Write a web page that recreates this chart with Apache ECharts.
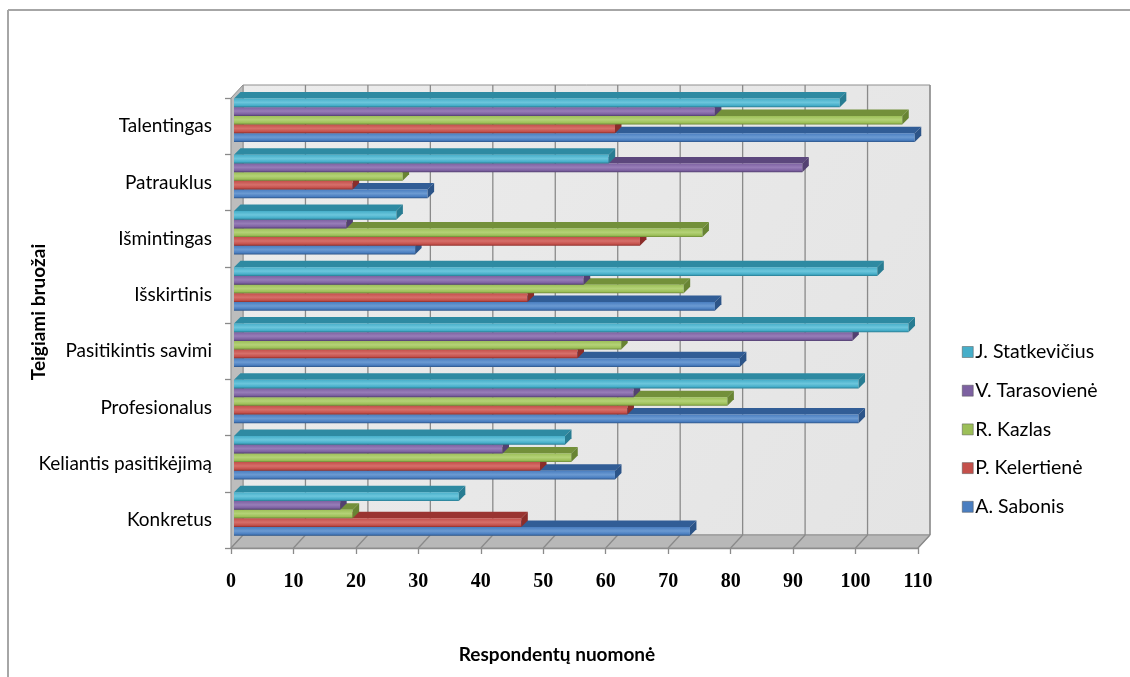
<!DOCTYPE html>
<html>
<head>
<meta charset="utf-8">
<script src="https://cdn.jsdelivr.net/npm/echarts@6/dist/echarts.min.js"></script>
<style>
  html, body { margin: 0; padding: 0; background: #ffffff; }
  #chart { width: 1130px; height: 677px; }
</style>
</head>
<body>
<div id="chart"></div>
<script>
// Categories, bottom to top
const categories = ['Konkretus', 'Keliantis pasitikėjimą', 'Profesionalus', 'Pasitikintis savimi',
  'Išskirtinis', 'Išmintingas', 'Patrauklus', 'Talentingas'];

// Respondent counts per candidate, same order as categories
const sabonis      = [73, 61, 100, 81, 77, 29, 31, 109];
const kelertiene   = [46, 49, 63, 55, 47, 65, 19, 61];
const kazlas       = [19, 54, 79, 62, 72, 75, 27, 107];
const tarasoviene  = [17, 43, 64, 99, 56, 18, 91, 77];
const statkevicius = [36, 53, 100, 108, 103, 26, 60, 97];

const seriesNames = ['J. Statkevičius', 'V. Tarasovienė', 'R. Kazlas', 'P. Kelertienė', 'A. Sabonis'];
const xTicks = [0, 10, 20, 30, 40, 50, 60, 70, 80, 90, 100, 110];

// 3D look: depth offset of the walls and of each bar's top face
const DX = 12, DY = -13;
const BDX = 6.5, BDY = -6.5;
const BAR_H = 8.7, BAR_OFFSET = 0.5;

const palette = {
  'J. Statkevičius': { front: '#46aec9', light: '#6cc6dc', top: '#2e8aa2', side: '#287c92' },
  'V. Tarasovienė':  { front: '#7d61a1', light: '#977db8', top: '#5c477d', side: '#534071' },
  'R. Kazlas':       { front: '#9cbf58', light: '#b4d277', top: '#73903a', side: '#688433' },
  'P. Kelertienė':   { front: '#c4504b', light: '#d66f6a', top: '#9a3431', side: '#8b2d2a' },
  'A. Sabonis':      { front: '#4a7ec0', light: '#6b9ad2', top: '#315d96', side: '#2c5488' }
};

function frameRenderer(params, api) {
  const band = api.size([0, 1])[1];
  const first = api.coord([0, 0]);
  const xL = first[0];
  const yBottom = first[1] + band / 2;
  const yTop = api.coord([0, categories.length - 1])[1] - band / 2;
  const xR = api.coord([xTicks[xTicks.length - 1], 0])[0];
  const children = [];
  // back wall
  children.push({
    type: 'polygon',
    shape: { points: [[xL + DX, yTop + DY], [xR + DX, yTop + DY], [xR + DX, yBottom + DY], [xL + DX, yBottom + DY]] },
    style: {
      fill: { type: 'linear', x: 0, y: 0, x2: 1, y2: 1, colorStops: [
        { offset: 0, color: '#ececec' }, { offset: 1, color: '#e4e4e4' }] },
      stroke: '#8f8f8f', lineWidth: 1
    }
  });
  // left wall
  children.push({
    type: 'polygon',
    shape: { points: [[xL, yTop], [xL + DX, yTop + DY], [xL + DX, yBottom + DY], [xL, yBottom]] },
    style: { fill: '#bdbdbd', stroke: '#8f8f8f', lineWidth: 1 }
  });
  // floor
  children.push({
    type: 'polygon',
    shape: { points: [[xL, yBottom], [xR, yBottom], [xR + DX, yBottom + DY], [xL + DX, yBottom + DY]] },
    style: { fill: '#b8b8b8', stroke: '#8f8f8f', lineWidth: 1 }
  });
  // grid lines on wall and floor
  xTicks.forEach(function (v) {
    const x = api.coord([v, 0])[0];
    if (v > 0) {
      children.push({
        type: 'line',
        shape: { x1: x + DX, y1: yTop + DY, x2: x + DX, y2: yBottom + DY },
        style: { stroke: '#8a8a8a', lineWidth: 1.3 }
      });
    }
    children.push({
      type: 'line',
      shape: { x1: x, y1: yBottom, x2: x + DX, y2: yBottom + DY },
      style: { stroke: '#8a8a8a', lineWidth: 1.3 }
    });
  });
  return { type: 'group', children: children };
}

function barRenderer(slot, name) {
  const c = palette[name];
  return function (params, api) {
    const v = api.value(0);
    const ci = api.value(1);
    const band = api.size([0, 1])[1];
    const p0 = api.coord([0, ci]);
    const x0 = p0[0] + 3;
    const x1 = api.coord([v, ci])[0] + 3;
    const top = p0[1] - band / 2 + BAR_OFFSET + slot * BAR_H;
    const bot = top + BAR_H;
    return {
      type: 'group',
      children: [
        {
          type: 'polygon',
          shape: { points: [[x0, top], [x1, top], [x1 + BDX, top + BDY], [x0 + BDX, top + BDY]] },
          style: { fill: c.top }
        },
        {
          type: 'rect',
          shape: { x: x0, y: top, width: x1 - x0, height: BAR_H },
          style: {
            fill: { type: 'linear', x: 0, y: 0, x2: 0, y2: 1, colorStops: [
              { offset: 0, color: c.front }, { offset: 0.45, color: c.light },
              { offset: 0.8, color: c.front }, { offset: 1, color: c.side }] }
          }
        },
        {
          type: 'polygon',
          shape: { points: [[x1, top], [x1 + BDX, top + BDY], [x1 + BDX, bot + BDY], [x1, bot]] },
          style: { fill: c.side }
        }
      ]
    };
  };
}

function toData(arr) {
  return arr.map(function (v, i) { return [v, i]; });
}

// drawn from the bottom bar of each group upward so upper bars cover lower top faces
const drawOrder = [
  { name: 'A. Sabonis', slot: 4, values: sabonis },
  { name: 'P. Kelertienė', slot: 3, values: kelertiene },
  { name: 'R. Kazlas', slot: 2, values: kazlas },
  { name: 'V. Tarasovienė', slot: 1, values: tarasoviene },
  { name: 'J. Statkevičius', slot: 0, values: statkevicius }
];

const series = [{
  type: 'custom',
  name: 'frame',
  silent: true,
  z: 1,
  renderItem: frameRenderer,
  data: [[0, 0]],
  encode: { x: 0, y: 1 }
}].concat(drawOrder.map(function (s) {
  return {
    type: 'custom',
    name: s.name,
    z: 2,
    itemStyle: { color: palette[s.name].front },
    renderItem: barRenderer(s.slot, s.name),
    data: toData(s.values),
    encode: { x: 0, y: 1 }
  };
}));

const chart = echarts.init(document.getElementById('chart'), null, { renderer: 'canvas' });
chart.setOption({
  backgroundColor: '#ffffff',
  animation: false,
  grid: { left: 231, top: 98, width: 687, height: 450 },
  xAxis: {
    type: 'value',
    min: 0, max: 110, interval: 10,
    axisLine: { show: true, lineStyle: { color: '#8a8a8a', width: 1.3 } },
    axisTick: { show: true, length: 6, lineStyle: { color: '#8a8a8a', width: 1.3 } },
    splitLine: { show: false },
    axisLabel: {
      margin: 24,
      fontFamily: 'Liberation Serif', fontWeight: 'bold', fontSize: 20, color: '#000'
    }
  },
  yAxis: {
    type: 'category',
    data: categories,
    axisLine: { show: true, lineStyle: { color: '#8a8a8a', width: 1.3 } },
    axisTick: { show: true, length: 6, lineStyle: { color: '#8a8a8a', width: 1.3 } },
    axisLabel: { margin: 19, fontFamily: 'Lato', fontSize: 19, color: '#000' }
  },
  legend: {
    orient: 'vertical',
    left: 962, top: 342, padding: 0,
    itemWidth: 11, itemHeight: 11, itemGap: 18.7,
    icon: 'rect',
    data: seriesNames,
    itemStyle: { borderColor: '#555', borderWidth: 0.5 },
    textStyle: { fontFamily: 'Lato', fontSize: 19.5, color: '#000', lineHeight: 20, padding: [0, 0, 0, -3] }
  },
  graphic: [
    { type: 'line', shape: { x1: 8, y1: 10, x2: 1130, y2: 10 }, style: { stroke: '#a6a6a6', lineWidth: 2 } },
    { type: 'line', shape: { x1: 8, y1: 10, x2: 8, y2: 677 }, style: { stroke: '#a6a6a6', lineWidth: 2 } },
    {
      type: 'text', x: 557, y: 655,
      style: { text: 'Respondentų nuomonė', font: 'bold 19px Lato', fill: '#000', align: 'center', verticalAlign: 'middle' }
    },
    {
      type: 'text', x: 39, y: 312, rotation: Math.PI / 2,
      style: { text: 'Teigiami bruožai', font: 'bold 19px Lato', fill: '#000', align: 'center', verticalAlign: 'middle' }
    }
  ],
  series: series
});
</script>
</body>
</html>
